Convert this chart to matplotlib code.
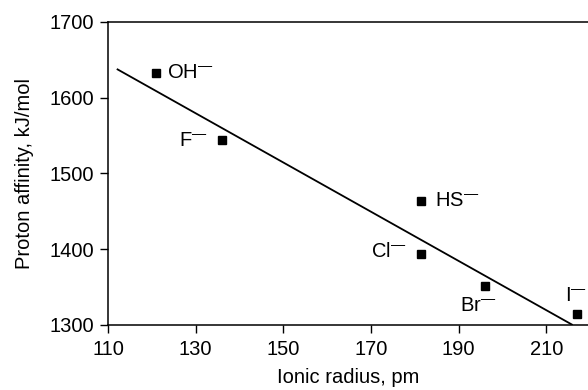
import matplotlib
matplotlib.use("Agg")
import matplotlib.pyplot as plt

plt.rcParams["font.family"] = ["Liberation Sans", "DejaVu Sans"]
plt.rcParams["mathtext.fontset"] = "custom"
plt.rcParams["mathtext.rm"] = "Liberation Sans"
plt.rcParams["mathtext.it"] = "Liberation Sans"

FS = 14.5

# ── Data ──────────────────────────────────────────────
ions        = ["OH", "F", "HS", "Cl", "Br", "I"]
radius_pm   = [121, 136, 181.5, 181.5, 196, 217]
affinity_kj = [1633, 1544, 1464, 1394, 1352, 1315]

# fitted trend line endpoints
fit_x = [112, 216]
fit_y = [1638, 1300]

x_ticks = [110, 130, 150, 170, 190, 210]
y_ticks = [1300, 1400, 1500, 1600, 1700]

# label placement (offset in points, alignment)
label_pos = {
    "OH": ((8, 0), "left", "center"),
    "F":  ((-10, 0), "right", "center"),
    "HS": ((10, 0), "left", "center"),
    "Cl": ((-11, 2), "right", "center"),
    "Br": ((-5, -14), "center", "center"),
    "I":  ((-1, 13), "center", "center"),
}

fig = plt.figure(figsize=(5.88, 3.9), dpi=100)
ax = fig.add_axes([0.1837, 0.1667, 0.8163, 0.7769])

ax.plot(fit_x, fit_y, color="black", lw=1.3, solid_capstyle="butt")
ax.plot(radius_pm, affinity_kj, "s", color="black", ms=6.3, ls="none")

for ion, x, y in zip(ions, radius_pm, affinity_kj):
    off, ha, va = label_pos[ion]
    ax.annotate(ion + r"$^{\mathrm{—}}$", (x, y), xytext=off,
                textcoords="offset points", ha=ha, va=va, fontsize=FS)

ax.set_xlim(110, 219.5)
ax.set_ylim(1300, 1700)
ax.set_xticks(x_ticks)
ax.set_yticks(y_ticks)
ax.tick_params(direction="out", length=6, width=1, labelsize=FS)
ax.tick_params(axis="x", pad=5)
ax.tick_params(axis="y", pad=4)
ax.spines["right"].set_visible(False)
for s in ("left", "top", "bottom"):
    ax.spines[s].set_linewidth(1.1)

ax.set_xlabel("Ionic radius, pm", fontsize=FS, labelpad=6)
ax.set_ylabel("Proton affinity, kJ/mol", fontsize=FS, labelpad=11)

fig.savefig("out.png", dpi=100)
